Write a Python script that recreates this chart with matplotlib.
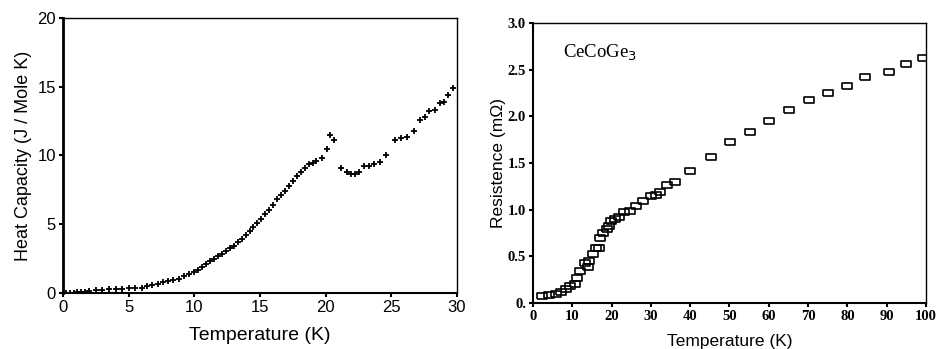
import matplotlib.pyplot as plt

# heat capacity (left panel)
t_hc = [0.2, 0.5, 0.8, 1.1, 1.4, 1.7, 2.0, 2.5, 3.0, 3.5, 4.0, 4.5, 5.0, 5.5, 6.0,
        6.4, 6.8, 7.2, 7.6, 8.0, 8.4, 8.8, 9.2, 9.6, 10.0, 10.3, 10.6, 10.9, 11.2,
        11.5, 11.8, 12.1, 12.4, 12.7, 13.0, 13.3, 13.6, 13.9, 14.2, 14.5, 14.8,
        15.1, 15.4, 15.7, 16.0, 16.3, 16.6, 16.9, 17.2, 17.5, 17.8, 18.1, 18.4,
        18.7, 19.0, 19.3, 19.7, 20.1, 20.35, 20.6,
        21.2, 21.6, 21.9, 22.2, 22.5, 22.9, 23.3, 23.7, 24.1, 24.6, 25.3, 25.7,
        26.2, 26.7, 27.2, 27.6, 27.9, 28.3, 28.7, 29.0, 29.3, 29.7]
c_hc = [0.0, 0.0, 0.02, 0.04, 0.07, 0.1, 0.15, 0.2, 0.23, 0.26, 0.3, 0.32, 0.33, 0.33, 0.36,
        0.48, 0.58, 0.68, 0.8, 0.85, 0.92, 1.05, 1.2, 1.35, 1.5, 1.7, 1.9, 2.1, 2.3,
        2.5, 2.7, 2.85, 3.05, 3.25, 3.45, 3.7, 3.95, 4.25, 4.5, 4.8, 5.1,
        5.4, 5.75, 6.05, 6.4, 6.8, 7.15, 7.45, 7.8, 8.15, 8.5, 8.8, 9.1,
        9.35, 9.45, 9.6, 9.85, 10.5, 11.5, 11.15,
        9.1, 8.8, 8.65, 8.65, 8.8, 9.25, 9.2, 9.35, 9.55, 10.05, 11.15, 11.3,
        11.35, 11.75, 12.6, 12.8, 13.2, 13.3, 13.8, 13.9, 14.4, 14.9]

# resistance (right panel)
t_res = [2.4, 4.1, 5.8, 7.2, 8.5, 9.3, 10.6, 11.2, 11.9, 13.2, 13.9, 14.2, 15.3,
         16.0, 16.8, 17.0, 17.8, 18.8, 19.4, 19.9, 20.8, 21.9, 23.1, 24.6, 26.1,
         28.0, 30.1, 31.2, 32.3, 34.1, 36.1, 39.9, 45.2, 50.1, 55.2, 60.0, 65.2,
         70.2, 75.0, 80.0, 84.6, 90.5, 94.9, 99.3]
r_res = [0.078, 0.089, 0.096, 0.114, 0.15, 0.185, 0.207, 0.27, 0.34, 0.43, 0.39, 0.445, 0.52,
         0.59, 0.59, 0.695, 0.75, 0.79, 0.83, 0.88, 0.90, 0.925, 0.97, 0.99, 1.04,
         1.09, 1.15, 1.16, 1.19, 1.26, 1.30, 1.41, 1.56, 1.72, 1.83, 1.95, 2.07,
         2.17, 2.25, 2.33, 2.42, 2.48, 2.56, 2.62]

x_ticks_l = [0, 5, 10, 15, 20, 25, 30]
y_ticks_l = [0, 5, 10, 15, 20]
x_ticks_r = [0, 10, 20, 30, 40, 50, 60, 70, 80, 90, 100]
y_ticks_r = [0, 0.5, 1.0, 1.5, 2.0, 2.5, 3.0]
y_labels_r = ["0.", "0.5", "1.0", "1.5", "2.0", "2.5", "3.0"]

plt.rcParams['font.family'] = ['Liberation Sans', 'DejaVu Sans']

fig = plt.figure(figsize=(9.39, 3.49), dpi=100)

# ------------------------------------------------
# left: heat capacity
ax1 = fig.add_axes([0.0671, 0.1605, 0.4196, 0.788])
ax1.plot(t_hc, c_hc, '+', color='black', markersize=4, markeredgewidth=1.3)
ax1.set_xlim(0, 30)
ax1.set_ylim(0, 20)
ax1.set_xticks(x_ticks_l)
ax1.set_yticks(y_ticks_l)
ax1.tick_params(direction='out', length=3, width=1.5, labelsize=12, pad=2)
ax1.set_xlabel("Temperature (K)", fontsize=14, labelpad=9)
ax1.set_ylabel("Heat Capacity (J / Mole K)", fontsize=13, labelpad=4)
for s in ax1.spines.values():
    s.set_linewidth(1.0)
ax1.spines['left'].set_linewidth(2.0)
ax1.spines['bottom'].set_linewidth(1.5)

# ------------------------------------------------
# right: resistance
rect = [(-1.6, -1), (1.6, -1), (1.6, 1), (-1.6, 1), (-1.6, -1)]
ax2 = fig.add_axes([0.5676, 0.1318, 0.4185, 0.8023])
ax2.plot(t_res, r_res, linestyle='none', marker=rect, markersize=7,
         markerfacecolor='none', markeredgecolor='black', markeredgewidth=1.2)
ax2.set_xlim(0, 100)
ax2.set_ylim(0, 3.0)
ax2.set_xticks(x_ticks_r)
ax2.set_yticks(y_ticks_r)
ax2.set_yticklabels(y_labels_r)
ax2.tick_params(direction='out', length=3, width=1.5, labelsize=10.5, pad=2)
for lbl in ax2.get_xticklabels() + ax2.get_yticklabels():
    lbl.set_family('Liberation Serif')
    lbl.set_fontweight('bold')
ax2.set_xlabel("Temperature (K)", fontsize=12.5, labelpad=8)
ax2.set_ylabel("Resistence (m\u03a9)", fontsize=12.5, labelpad=1)
ax2.text(7.6, 2.68, "CeCoGe$_3$", family='Liberation Serif', fontsize=13.5,
         va='center', ha='left')
for s in ax2.spines.values():
    s.set_linewidth(1.0)
ax2.spines['left'].set_linewidth(1.5)
ax2.spines['bottom'].set_linewidth(1.5)

plt.savefig('out.png', dpi=100)
